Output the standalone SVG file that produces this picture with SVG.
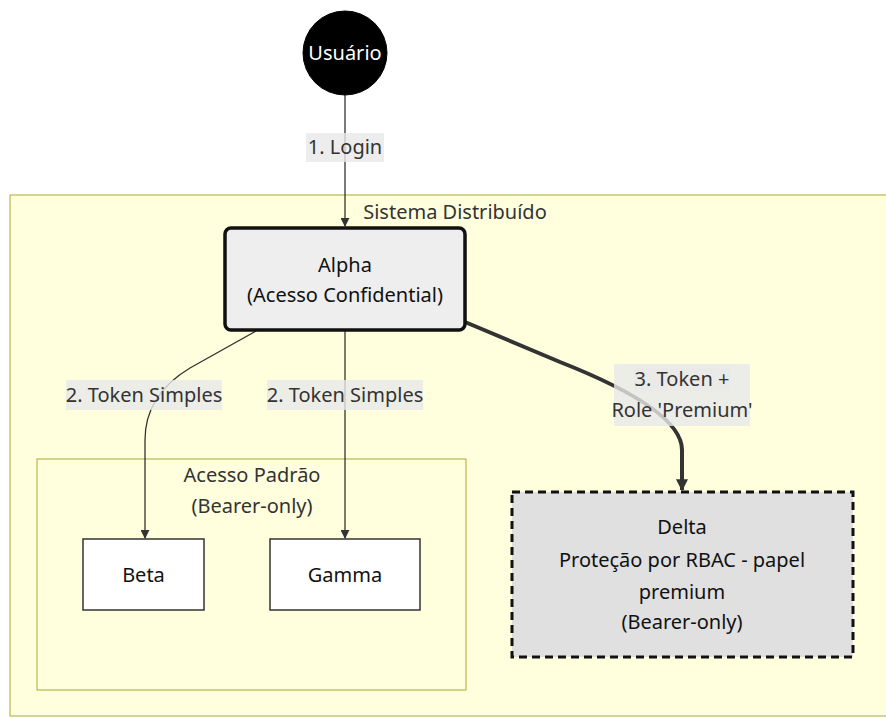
<svg xmlns="http://www.w3.org/2000/svg" width="886" height="718" viewBox="0 0 886 718">
  <style>
    text { font-family: "Noto Sans", "DejaVu Sans", sans-serif; font-size: 20px; text-anchor: middle; }
    .cluster { fill: #ffffde; stroke: #aaaa33; stroke-width: 1; }
    .ctext { fill: #333; }
    .node { fill: #fff; stroke: #333; stroke-width: 1.5; }
    .ntext { fill: #111; }
    .edge { fill: none; stroke: #333; stroke-width: 1.3; }
    .thick { fill: none; stroke: #333; stroke-width: 4; }
    .lbg { fill: rgba(232,232,232,0.8); }
    .ltext { fill: #333; }
  </style>
  <defs>
    <marker id="arrow" viewBox="0 0 10 10" refX="9" refY="5" markerWidth="9" markerHeight="9" markerUnits="userSpaceOnUse" orient="auto">
      <path d="M0,0 L10,5 L0,10 z" fill="#333"/>
    </marker>
    <marker id="arrowThick" viewBox="0 0 10 10" refX="9" refY="5" markerWidth="3" markerHeight="3" orient="auto">
      <path d="M0,0 L10,5 L0,10 z" fill="#333"/>
    </marker>
  </defs>

  <rect width="886" height="718" fill="#ffffff"/>

  <!-- subgraph: Sistema Distribuído -->
  <g id="sistema">
    <rect class="cluster" x="10" y="195" width="880" height="521"/>
    <text class="ctext" x="455" y="219">Sistema Distribuído</text>
  </g>

  <!-- subgraph: Acesso Padrão -->
  <g id="acesso-padrao">
    <rect class="cluster" x="37" y="459" width="429" height="231"/>
    <text class="ctext" x="252" y="482">Acesso Padrão</text>
    <text class="ctext" x="252" y="513">(Bearer-only)</text>
  </g>

  <!-- connectors -->
  <g id="edges">
    <path class="edge" d="M345,95 L345,226" marker-end="url(#arrow)"/>
    <path class="edge" d="M256,331 L190,368 Q145,395 145,440 L145,538" marker-end="url(#arrow)"/>
    <path class="edge" d="M345,331 L345,538" marker-end="url(#arrow)"/>
    <path class="thick" d="M465,322 L560,362 Q682,410 682,450 L682,490" marker-end="url(#arrowThick)"/>
  </g>

  <!-- edge labels -->
  <g id="edge-labels">
    <rect class="lbg" x="306" y="133" width="78" height="29"/>
    <text class="ltext" x="345" y="154">1. Login</text>

    <rect class="lbg" x="66" y="380" width="156" height="30"/>
    <text class="ltext" x="144" y="402">2. Token Simples</text>

    <rect class="lbg" x="267" y="380" width="156" height="30"/>
    <text class="ltext" x="345" y="402">2. Token Simples</text>

    <rect class="lbg" x="614" y="364" width="136" height="62"/>
    <rect class="lbg" x="634" y="368" width="97" height="23"/>
    <text class="ltext" x="682" y="386">3. Token +</text>
    <text class="ltext" x="682" y="417">Role 'Premium'</text>
  </g>

  <!-- nodes -->
  <g id="usuario">
    <circle cx="345" cy="53" r="42" fill="#000" stroke="#000"/>
    <text x="345" y="60" fill="#fff">Usuário</text>
  </g>

  <g id="alpha">
    <rect x="225" y="228" width="240" height="102" rx="6" fill="#eeeeee" stroke="#111" stroke-width="3.5"/>
    <text class="ntext" x="345" y="272">Alpha</text>
    <text class="ntext" x="345" y="302">(Acesso Confidential)</text>
  </g>

  <g id="beta">
    <rect class="node" x="83" y="539" width="121" height="71"/>
    <text class="ntext" x="143.5" y="582">Beta</text>
  </g>

  <g id="gamma">
    <rect class="node" x="270" y="539" width="150" height="71"/>
    <text class="ntext" x="345" y="582">Gamma</text>
  </g>

  <g id="delta">
    <rect x="512" y="492" width="341" height="165" fill="#e0e0e0" stroke="#111" stroke-width="3" stroke-dasharray="8 5"/>
    <text class="ntext" x="682" y="534">Delta</text>
    <text class="ntext" x="682" y="567">Proteção por RBAC - papel</text>
    <text class="ntext" x="682" y="599">premium</text>
    <text class="ntext" x="682" y="629">(Bearer-only)</text>
  </g>
</svg>
